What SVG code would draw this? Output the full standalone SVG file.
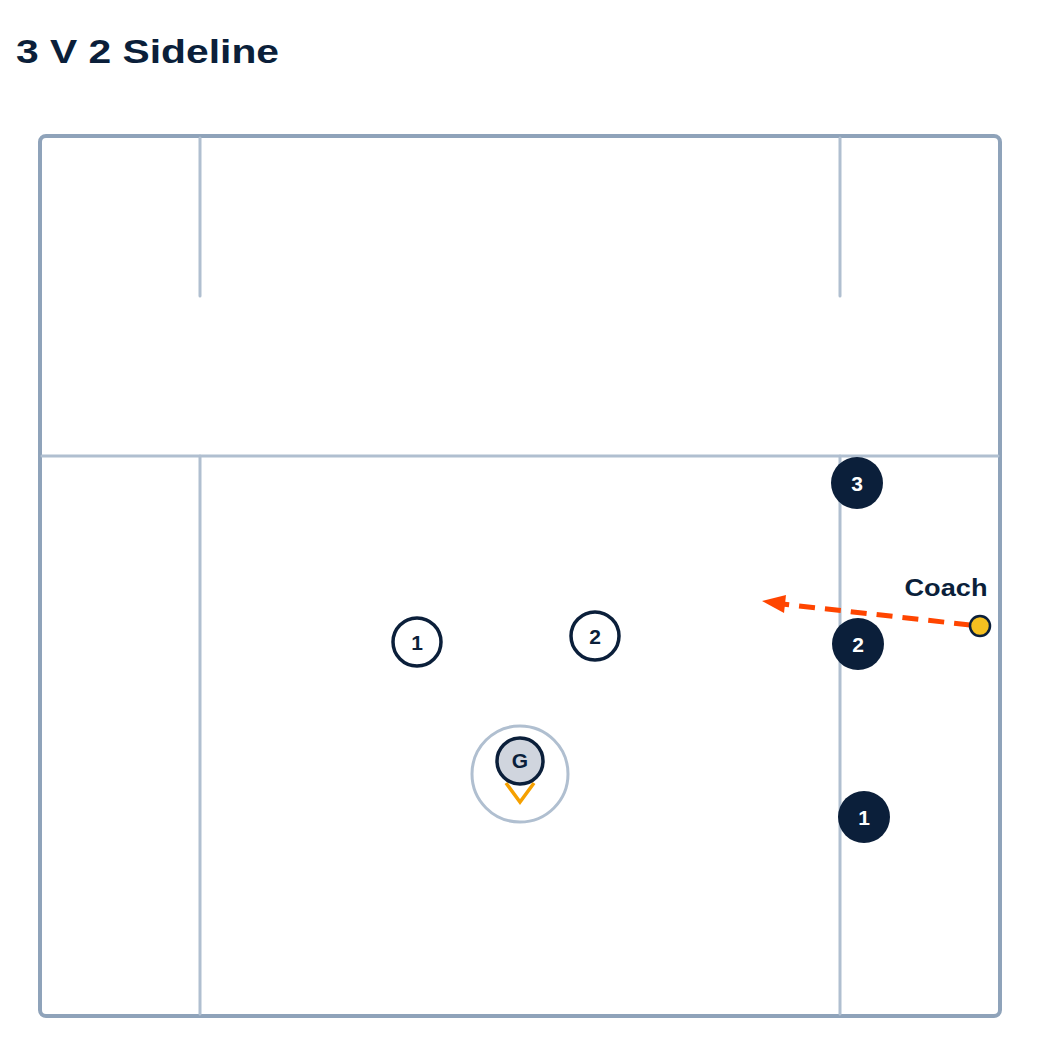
<svg xmlns="http://www.w3.org/2000/svg" width="1040" height="1056" viewBox="0 0 1040 1056">
<style>
.title{font-family:"Liberation Sans",Arial,sans-serif;font-weight:bold;font-size:34px;fill:#0b1f3a}
.field{fill:none;stroke:#8fa3ba;stroke-width:4;stroke-linecap:round}
.line{stroke:#b0bfd0;stroke-width:3;stroke-linecap:round;fill:none}
.off{fill:#0b1f3a}
.offt{font-family:"Liberation Sans",Arial,sans-serif;font-weight:bold;font-size:21px;fill:#ffffff;text-anchor:middle}
.def{fill:#ffffff;stroke:#0b1f3a;stroke-width:3.5}
.deft{font-family:"Liberation Sans",Arial,sans-serif;font-weight:bold;font-size:21px;fill:#0b1f3a;text-anchor:middle}
.lbl{font-family:"Liberation Sans",Arial,sans-serif;font-weight:bold;font-size:24px;fill:#0b1f3a;text-anchor:middle}
</style>
<rect width="1040" height="1056" fill="#ffffff"/>
<text class="title" x="16" y="63" textLength="263" lengthAdjust="spacingAndGlyphs">3 V 2 Sideline</text>
<g id="field">
<rect class="field" x="40" y="136" width="960" height="880" rx="6"/>
<line class="line" x1="200" y1="138" x2="200" y2="296"/>
<line class="line" x1="840" y1="138" x2="840" y2="296"/>
<line class="line" x1="42" y1="456" x2="998" y2="456"/>
<line class="line" x1="200" y1="456" x2="200" y2="1014"/>
<line class="line" x1="840" y1="456" x2="840" y2="1014"/>
</g>
<g id="connectors">
<line x1="970" y1="625" x2="782" y2="604" stroke="#ff4500" stroke-width="5" stroke-dasharray="16 10"/>
<path d="M762,601 L786,595 L784,613 Z" fill="#ff4500"/>
</g>
<g id="goalie">
<circle cx="520" cy="774" r="48" fill="none" stroke="#b0bfd0" stroke-width="3"/>
<path d="M506,783 L520,802 L534,783" fill="none" stroke="#f5a000" stroke-width="3.5" stroke-linejoin="miter"/>
<circle cx="520" cy="761" r="23" fill="#d0d5de" stroke="#0b1f3a" stroke-width="3.5"/>
<text class="deft" x="520" y="768">G</text>
</g>
<g id="def1"><circle class="def" cx="417" cy="642" r="24"/><text class="deft" x="417" y="650">1</text></g>
<g id="def2"><circle class="def" cx="595" cy="636" r="24"/><text class="deft" x="595" y="644">2</text></g>
<g id="off3"><circle class="off" cx="857" cy="483" r="26"/><text class="offt" x="857" y="491">3</text></g>
<g id="off2"><circle class="off" cx="858" cy="644" r="26"/><text class="offt" x="858" y="652">2</text></g>
<g id="off1"><circle class="off" cx="864" cy="817" r="26"/><text class="offt" x="864" y="825">1</text></g>
<g id="coach">
<circle cx="980" cy="626" r="10" fill="#f5c020" stroke="#0b1f3a" stroke-width="2.5"/>
<text class="lbl" x="946" y="596" textLength="83" lengthAdjust="spacingAndGlyphs">Coach</text>
</g>
</svg>
